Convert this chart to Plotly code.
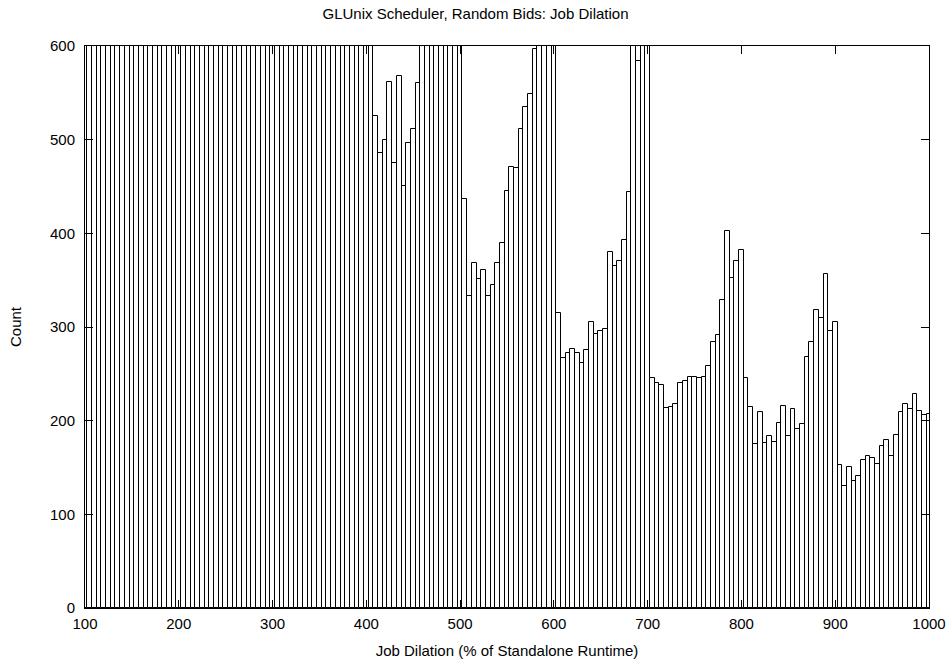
import plotly.graph_objects as go

# Histogram bins: dilation percentage (bin centres, 5-unit wide bins)
dilation = list(range(100, 1001, 5))

# Job counts per bin; bins up to 405 and a few peaks exceed the 600 axis limit
counts = [
    # 100 - 405
    1850, 1720, 1640, 1590, 1530, 1480, 1420, 1390, 1350, 1300,
    1270, 1240, 1200, 1180, 1150, 1120, 1100, 1080, 1050, 1030,
    1010, 990, 970, 950, 940, 920, 900, 890, 870, 860,
    850, 840, 830, 820, 810, 800, 790, 780, 770, 760,
    755, 745, 740, 730, 725, 715, 710, 700, 695, 690,
    685, 680, 670, 665, 660, 655, 650, 645, 640, 635,
    630, 620,
    # 410 - 455
    525, 486, 500, 562, 475, 568, 451, 496, 511, 560,
    # 460 - 500
    640, 660, 690, 710, 720, 700, 680, 660, 640,
    # 505 - 580
    437, 333, 368, 351, 361, 333, 345, 368, 390, 445,
    471, 470, 511, 535, 549, 597,
    # 585 - 600
    630, 660, 650, 620,
    # 605 - 680
    315, 267, 272, 276, 272, 262, 275, 305, 292, 296,
    298, 380, 365, 370, 393, 444,
    # 685 - 700
    640, 584, 655, 625,
    # 705 - 800
    246, 240, 238, 213, 215, 218, 240, 242, 247, 247,
    246, 247, 258, 284, 291, 329, 403, 352, 371, 382,
    # 805 - 900
    246, 215, 175, 209, 176, 184, 177, 197, 216, 184,
    212, 191, 196, 268, 284, 318, 310, 357, 296, 305,
    # 905 - 1000
    153, 130, 151, 136, 141, 158, 162, 160, 154, 173,
    179, 162, 185, 209, 218, 212, 229, 210, 206, 207,
]

x_ticks = [100, 200, 300, 400, 500, 600, 700, 800, 900, 1000]
y_ticks = [0, 100, 200, 300, 400, 500, 600]

font_family = "Liberation Sans, Arial, Helvetica, sans-serif"

fig = go.Figure(
    go.Bar(
        x=dilation,
        y=counts,
        width=5,
        marker=dict(color="white", line=dict(color="black", width=1)),
        showlegend=False,
    )
)

axis_common = dict(
    showgrid=False,
    zeroline=False,
    showline=True,
    linecolor="black",
    linewidth=1,
    mirror="allticks",
    ticks="inside",
    ticklen=8,
    tickwidth=1,
    tickcolor="black",
    automargin=False,
    tickfont=dict(family=font_family, size=15, color="black"),
)

fig.update_layout(
    width=951,
    height=663,
    margin=dict(l=85, r=22, t=46, b=55),
    paper_bgcolor="white",
    plot_bgcolor="white",
    bargap=0,
    font=dict(family=font_family, size=14, color="black"),
    title=dict(
        text="GLUnix Scheduler, Random Bids: Job Dilation",
        x=0.5,
        xref="container",
        xanchor="center",
        y=1 - 14 / 663,
        yanchor="middle",
        font=dict(family=font_family, size=15, color="black"),
    ),
    xaxis=dict(
        range=[100, 1000],
        tickvals=x_ticks,
        ticklabelstandoff=2,
        title=dict(text="Job Dilation (% of Standalone Runtime)", standoff=14,
                   font=dict(family=font_family, size=15)),
        **axis_common,
    ),
    yaxis=dict(
        range=[0, 600],
        tickvals=y_ticks,
        ticklabelstandoff=6,
        title=dict(text="Count", standoff=24,
                   font=dict(family=font_family, size=15)),
        **axis_common,
    ),
)

fig.write_html("out.html")
